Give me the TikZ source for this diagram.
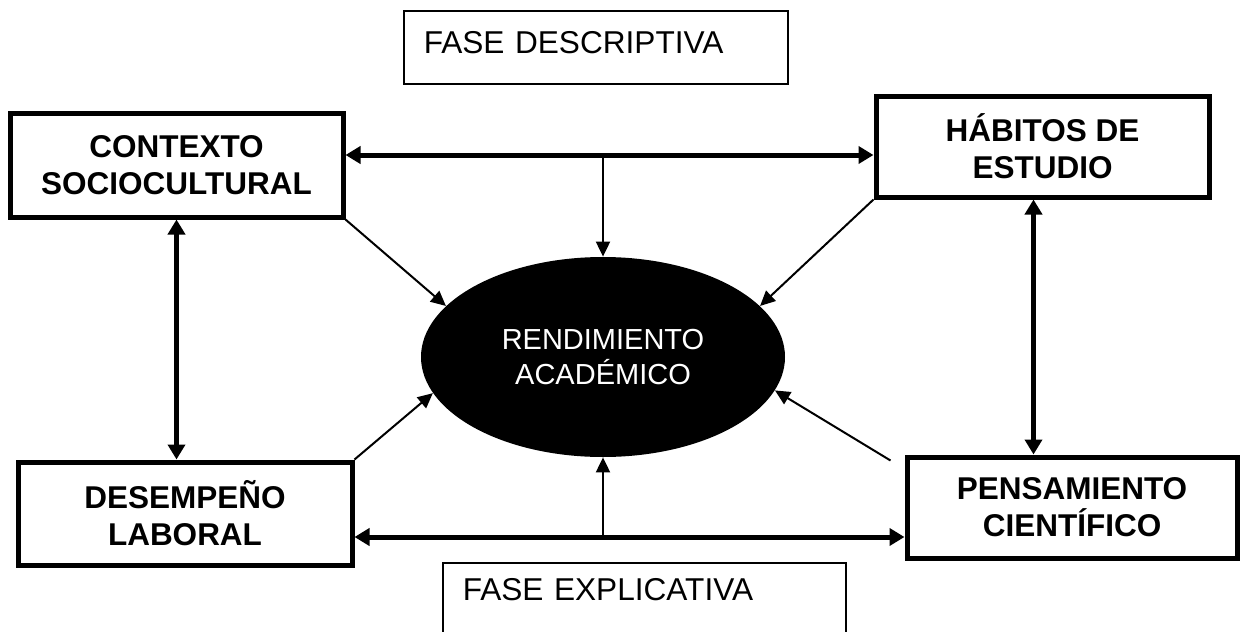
\documentclass[tikz,border=0pt]{standalone}
\usepackage{fontspec}
\setmainfont{Liberation Sans}
\usetikzlibrary{shapes.geometric,arrows.meta}

\begin{document}
\begin{tikzpicture}[x=0.5pt,y=-0.5pt,
	factor/.style={shape=rectangle,draw=black,line width=2.5pt,align=center,inner sep=0pt,font=\fontsize{15.75}{18.5}\selectfont\bfseries},
	fase/.style={shape=rectangle,draw=black,line width=0.75pt,align=left,anchor=north west,inner xsep=10pt,inner ysep=0pt,font=\fontsize{15.8}{19}\selectfont},
	bar/.style={line width=2.5pt,{Triangle[length=7.5pt,width=8.5pt]}-{Triangle[length=7.5pt,width=8.5pt]}},
	link/.style={line width=1pt,-{Triangle[length=7.5pt,width=7pt]}}]
	\useasboundingbox (0,0) rectangle (1249,632);
	\clip (0,0) rectangle (1249,632);

	\node[fase,text width=172pt,text height=21.5pt,text depth=15pt] (fdes) at (403,10) {FASE DESCRIPTIVA};
	\node[fase,text width=181.5pt,text height=19pt,text depth=40pt] (fexp) at (442,562) {FASE EXPLICATIVA};

	\node[factor,minimum width=166.5pt,minimum height=52pt] (ctx) at (176.5,165) {CONTEXTO\\SOCIOCULTURAL};
	\node[factor,minimum width=166.5pt,minimum height=50.5pt] (hab) at (1042.5,146.5) {HÁBITOS DE\\ESTUDIO};
	\node[factor,minimum width=167pt,minimum height=51.5pt] (des) at (185,513.5) {DESEMPEÑO\\LABORAL};
	\node[factor,minimum width=165pt,minimum height=50.5pt] (pen) at (1072,507.5) {PENSAMIENTO\\CIENTÍFICO};
	\node[shape=ellipse,fill=black,text=white,minimum width=182pt,minimum height=100pt,inner sep=0pt,align=center,font=\fontsize{14.5}{17.5}\selectfont] (rend) at (603,357) {RENDIMIENTO\\ACADÉMICO};

	\coordinate (tl) at ([yshift=5pt]ctx.east);
	\coordinate (bl) at ([yshift=-11.75pt]des.east);
	\coordinate (hs) at ([xshift=-4.5pt]hab.south);
	\coordinate (ps) at ([xshift=-7pt,yshift=-3pt]pen.north west);

	\path[bar] (tl) edge (tl -| hab.west);
	\path[bar] (bl) edge (bl -| pen.west);
	\path[bar] (ctx.south) edge (ctx.south |- des.north);
	\path[bar] (hs) edge (hs |- pen.north);
	\path[link] (tl -| rend.north) edge (rend.north);
	\path[link] (bl -| rend.south) edge (rend.south);
	\path[link] (ctx.south east) edge (rend.162);
	\path[link] (hab.south west) edge (rend.18);
	\path[link] (des.north east) edge (rend.192);
	\path[link] (ps) edge (rend.349);
\end{tikzpicture}
\end{document}
